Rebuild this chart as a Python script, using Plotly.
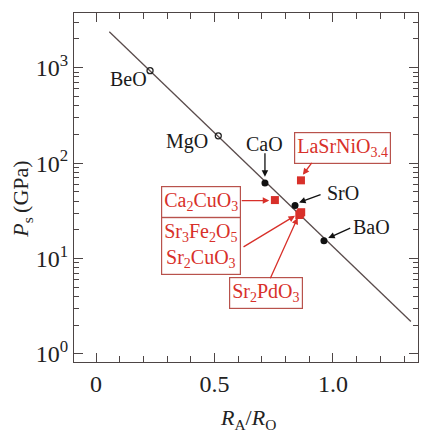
import plotly.graph_objects as go

# ---- data ----
line_x = [0.056, 1.329]
line_y = [2380, 2.19]

open_names = ["BeO", "MgO"]
open_x = [0.228, 0.516]
open_y = [930, 193]

filled_names = ["CaO", "SrO", "BaO"]
filled_x = [0.713, 0.840, 0.962]
filled_y = [62, 36, 15.4]

red_names = ["LaSrNiO3.4", "Ca2CuO3", "Sr3Fe2O5", "Sr2CuO3", "Sr2PdO3"]
red_x = [0.865, 0.755, 0.858, 0.866, 0.862]
red_y = [66, 41, 28.6, 30.6, 29.5]

x_tickvals = [0, 0.5, 1.0]
x_ticktext = ["0", "0.5", "1.0"]
y_tickvals = [1, 10, 100, 1000]
y_ticktext = ["10<sup>0</sup>", "10<sup>1</sup>", "10<sup>2</sup>", "10<sup>3</sup>"]
y_minor = [m * 10 ** k for k in range(0, 4) for m in range(2, 10)]

FONT = "Liberation Serif, Times New Roman, serif"
AX = "#4d4545"
RED = "#d8302a"
BOX = "#b8524c"
TICKFONT = dict(family=FONT, size=24, color="#222")

fig = go.Figure()
fig.add_trace(go.Scatter(x=line_x, y=line_y, mode="lines",
                         line=dict(color="#5a4c4c", width=1.3), hoverinfo="skip"))
fig.add_trace(go.Scatter(x=open_x, y=open_y, mode="markers",
                         marker=dict(symbol="circle-open", size=6, color="#222",
                                     line=dict(width=1.3))))
fig.add_trace(go.Scatter(x=filled_x, y=filled_y, mode="markers",
                         marker=dict(symbol="circle", size=7, color="#111")))
fig.add_trace(go.Scatter(x=red_x, y=red_y, mode="markers",
                         marker=dict(symbol="square", size=8, color=RED)))

ann = []
# black labels (x, log10 y)
black_labels = [("BeO", 0.135, 2.883), ("MgO", 0.384, 2.223), ("CaO", 0.713, 2.202),
                ("SrO", 1.042, 1.689), ("BaO", 1.163, 1.326)]
for t, x, y in black_labels:
    ann.append(dict(x=x, y=y, text=t, showarrow=False,
                    font=dict(family=FONT, size=20, color="#1a1a1a")))

red_labels = [("LaSrNiO<sub>3.4</sub>", 1.042, 2.155),
              ("Ca<sub>2</sub>CuO<sub>3</sub>", 0.441, 1.595),
              ("Sr<sub>3</sub>Fe<sub>2</sub>O<sub>5</sub><br>Sr<sub>2</sub>CuO<sub>3</sub>", 0.443, 1.134),
              ("Sr<sub>2</sub>PdO<sub>3</sub>", 0.719, 0.642)]
for t, x, y in red_labels:
    ann.append(dict(x=x, y=y, text=t, showarrow=False,
                    font=dict(family=FONT, size=20, color=RED),
                    bordercolor=BOX, borderwidth=1.2, borderpad=2, bgcolor="white"))

# arrows: head (x, log y), tail offset (ax, ay)
black_arrows = [(0.713, 1.857, 0, -25), (0.857, 1.587, 23, -8.5), (0.980, 1.215, 23.5, -10.5)]
for x, y, ax, ay in black_arrows:
    ann.append(dict(x=x, y=y, ax=ax, ay=ay, text="", showarrow=True, arrowhead=2,
                    arrowsize=1, arrowwidth=1.3, arrowcolor="#111", standoff=0))
red_arrows = [(0.873, 1.877, 10, -13.5), (0.731, 1.608, -29, 0),
              (0.840, 1.448, -53, 32), (0.851, 1.427, -28, 62)]
for x, y, ax, ay in red_arrows:
    ann.append(dict(x=x, y=y, ax=ax, ay=ay, text="", showarrow=True, arrowhead=2,
                    arrowsize=1, arrowwidth=1.3, arrowcolor=RED, standoff=0))

# axis titles
ann.append(dict(xref="paper", yref="paper", x=0.506, y=-0.163, showarrow=False,
                xanchor="center", yanchor="middle",
                text="<i>R</i><sub>A</sub>/<i>R</i><sub>O</sub>",
                font=dict(family=FONT, size=22, color="#222")))
ann.append(dict(xref="paper", yref="paper", x=-0.151, y=0.465, showarrow=False,
                xanchor="center", yanchor="middle",
                text="<i>P</i><sub>s</sub>\u2009(GPa)", textangle=-90,
                font=dict(family=FONT, size=22, color="#222")))

fig.update_layout(
    width=425, height=435,
    margin=dict(l=74, r=7, t=13, b=73),
    paper_bgcolor="white", plot_bgcolor="white",
    showlegend=False,
    annotations=ann,
    font=dict(family=FONT, size=22, color="#222"),
)
fig.update_xaxes(range=[-0.093, 1.359], tickvals=x_tickvals, ticktext=x_ticktext,
                 tickfont=TICKFONT,
                 showline=True, linecolor=AX, linewidth=1.3, mirror="allticks",
                 ticks="inside", ticklen=9, tickcolor=AX, tickwidth=1.2,
                 minor=dict(ticks="inside", dtick=0.1, tick0=0, ticklen=6, tickcolor=AX),
                 showgrid=False, zeroline=False)
fig.update_yaxes(type="log", range=[-0.084, 3.573], tickvals=y_tickvals, ticktext=y_ticktext,
                 tickfont=TICKFONT,
                 showline=True, linecolor=AX, linewidth=1.3, mirror="allticks",
                 ticks="inside", ticklen=9, tickcolor=AX, tickwidth=1.2,
                 minor=dict(ticks="inside", tickvals=y_minor, ticklen=5, tickcolor=AX,
                            showgrid=False),
                 showgrid=False, zeroline=False)

fig.write_html("out.html")
